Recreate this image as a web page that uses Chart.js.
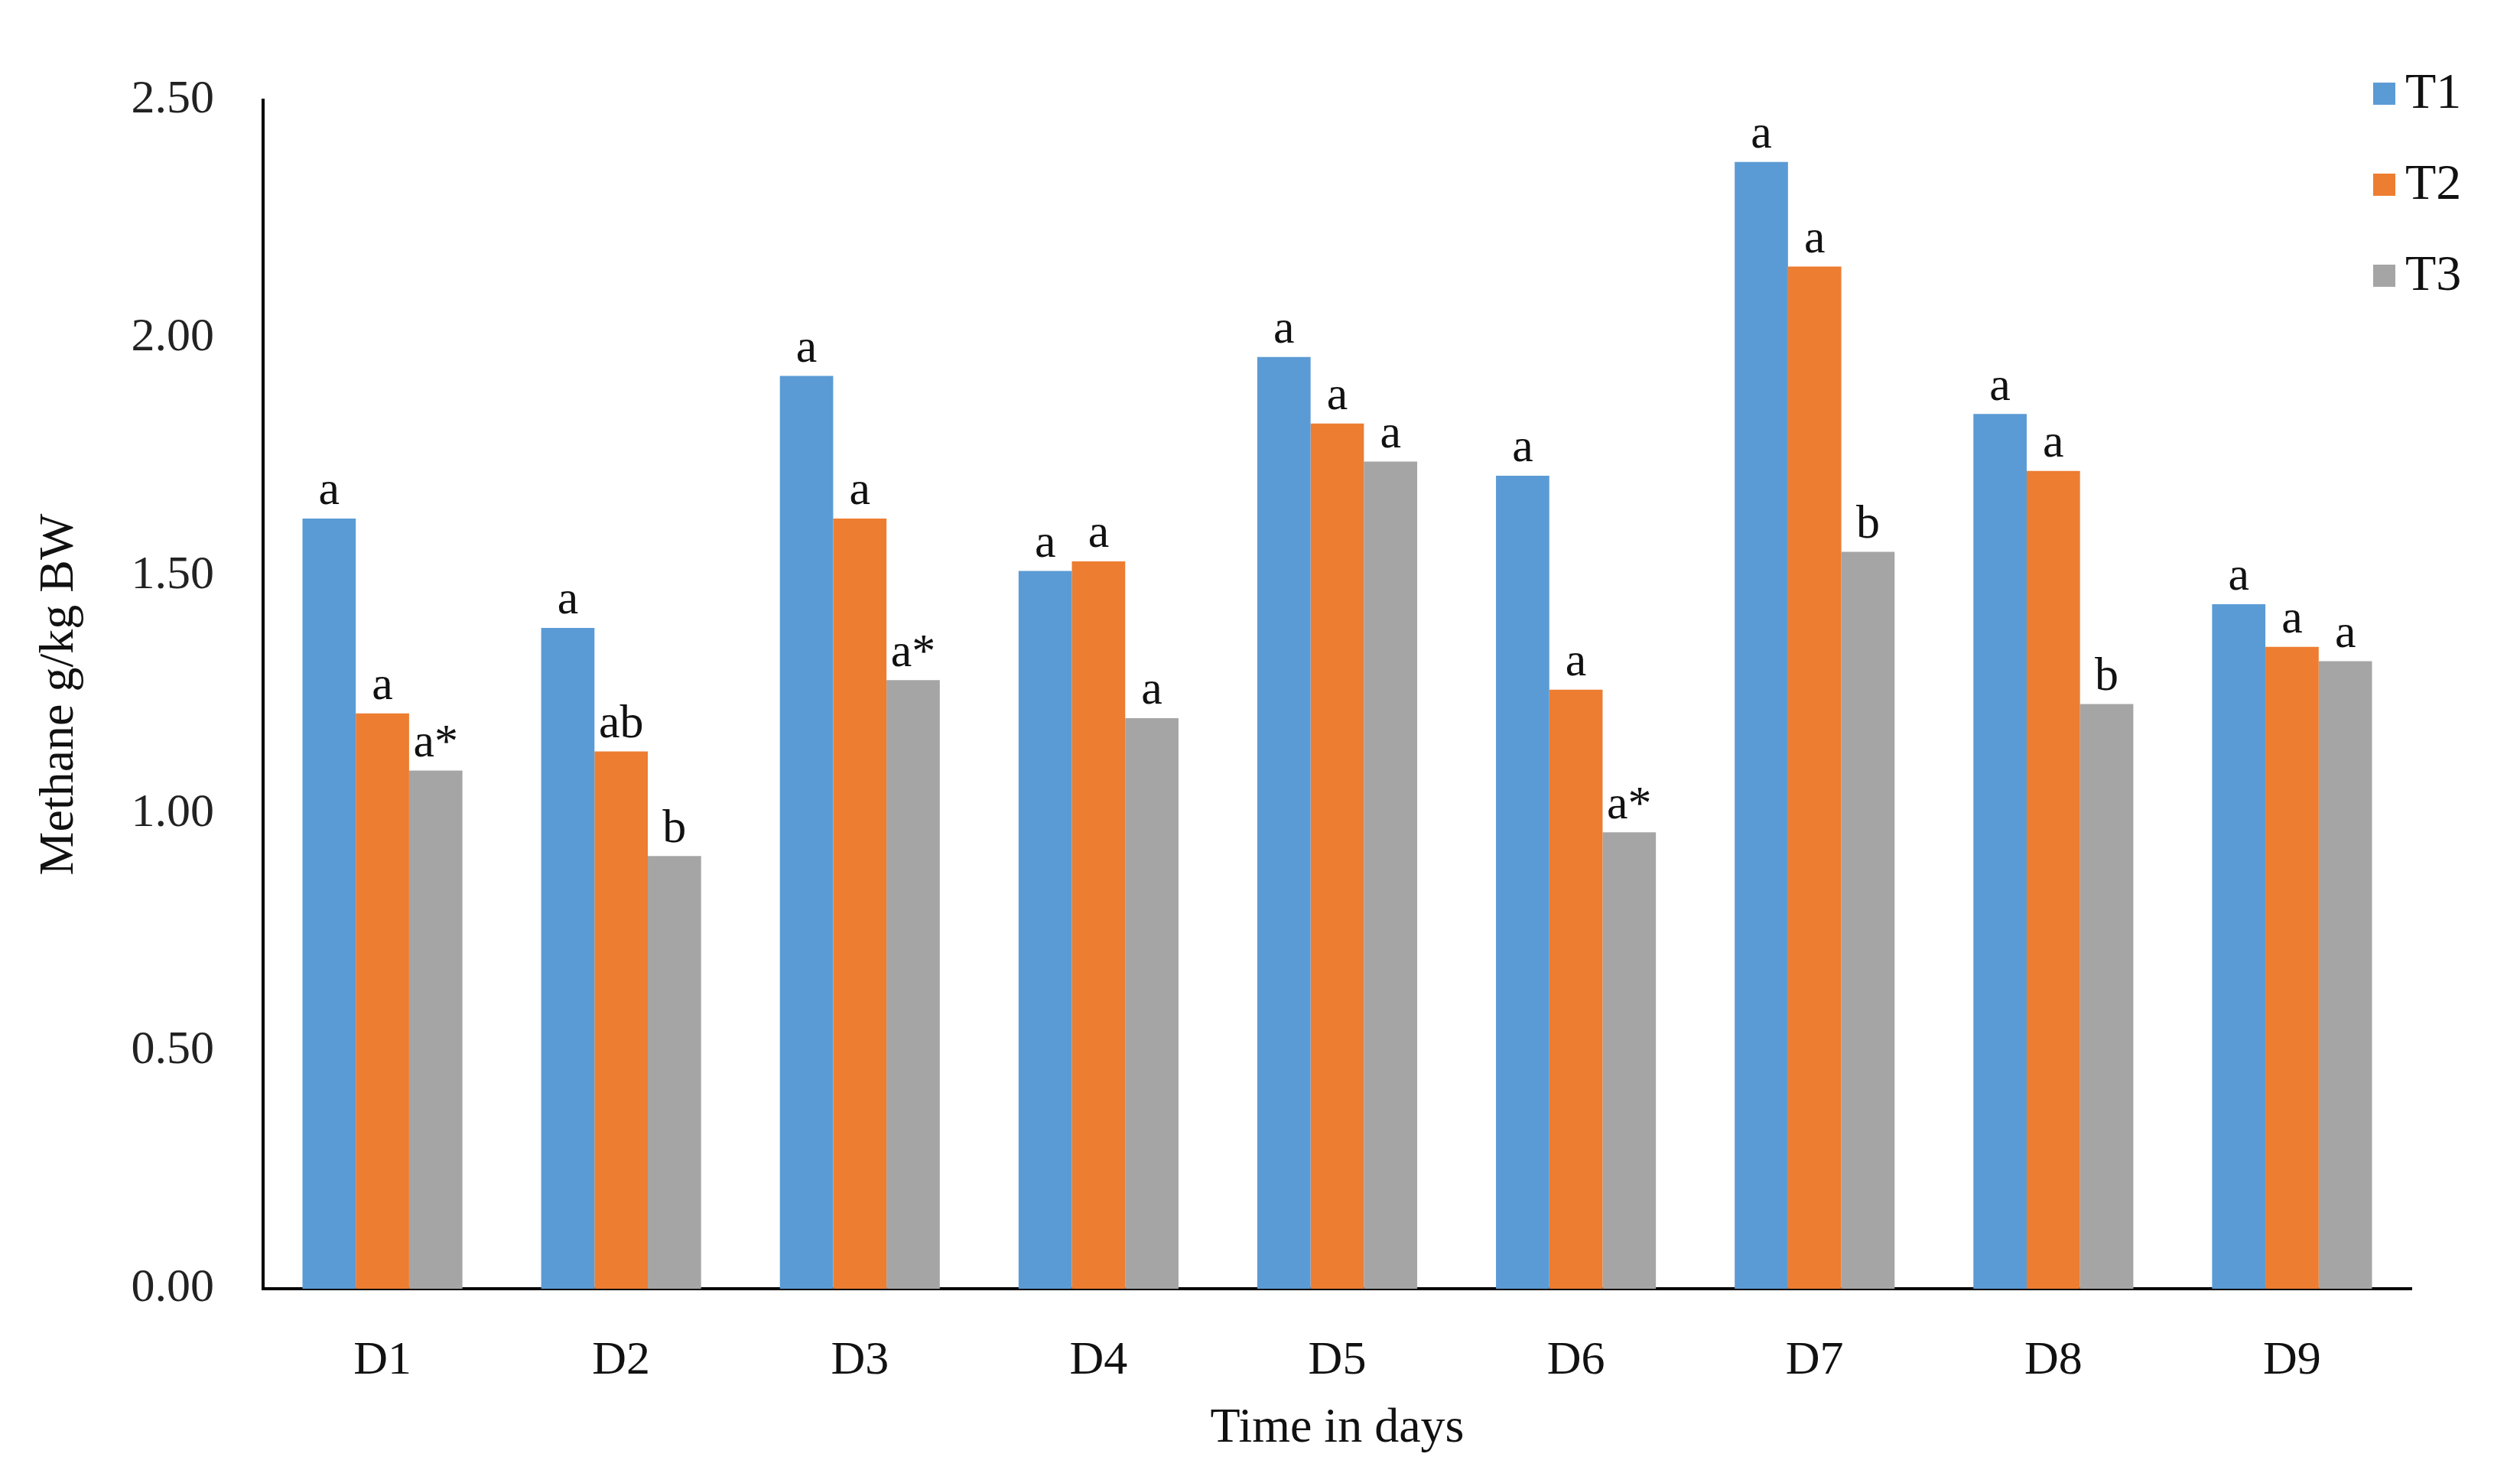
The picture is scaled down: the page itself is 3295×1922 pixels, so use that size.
<!DOCTYPE html>
<html>
<head>
<meta charset="utf-8">
<script src="https://cdn.jsdelivr.net/npm/chart.js@4.4.1/dist/chart.umd.min.js"></script>
<style>
  html, body { margin: 0; padding: 0; background: #fff; }
  canvas { display: block; }
</style>
</head>
<body>
<canvas id="methaneChart" width="3295" height="1922" style="width:3295px;height:1922px"></canvas>
<script>
// data
const days = ['D1', 'D2', 'D3', 'D4', 'D5', 'D6', 'D7', 'D8', 'D9'];
const t1Values = [1.62, 1.39, 1.92, 1.51, 1.96, 1.71, 2.37, 1.84, 1.44];
const t2Values = [1.21, 1.13, 1.62, 1.53, 1.82, 1.26, 2.15, 1.72, 1.35];
const t3Values = [1.09, 0.91, 1.28, 1.20, 1.74, 0.96, 1.55, 1.23, 1.32];
const t1Letters = ['a', 'a', 'a', 'a', 'a', 'a', 'a', 'a', 'a'];
const t2Letters = ['a', 'ab', 'a', 'a', 'a', 'a', 'a', 'a', 'a'];
const t3Letters = ['a*', 'b', 'a*', 'a', 'a', 'a*', 'b', 'b', 'a'];
const yTicks = [0, 0.5, 1.0, 1.5, 2.0, 2.5];

const FONT = "'Liberation Serif', 'DejaVu Serif', serif";

const barLetters = {
  id: 'barLetters',
  afterDatasetsDraw(chart) {
    const ctx = chart.ctx;
    ctx.save();
    ctx.font = `62px ${FONT}`;
    ctx.fillStyle = '#111';
    ctx.textAlign = 'center';
    ctx.textBaseline = 'bottom';
    chart.data.datasets.forEach((ds, i) => {
      chart.getDatasetMeta(i).data.forEach((bar, j) => {
        ctx.fillText(ds.letters[j], bar.x, bar.y - 4);
      });
    });
    ctx.restore();
  },
};

const sideLegend = {
  id: 'sideLegend',
  afterDraw(chart) {
    const ctx = chart.ctx;
    ctx.save();
    ctx.font = `66px ${FONT}`;
    ctx.textBaseline = 'middle';
    ctx.textAlign = 'left';
    chart.data.datasets.forEach((ds, i) => {
      const y = 122 + i * 119;
      ctx.fillStyle = ds.backgroundColor;
      ctx.fillRect(3103, y - 14, 29, 29);
      ctx.fillStyle = '#111';
      ctx.fillText(ds.label, 3145, y + 2);
    });
    ctx.restore();
  },
};

new Chart(document.getElementById('methaneChart'), {
  type: 'bar',
  data: {
    labels: days,
    datasets: [
      { label: 'T1', data: t1Values, letters: t1Letters, backgroundColor: '#5B9BD5' },
      { label: 'T2', data: t2Values, letters: t2Letters, backgroundColor: '#ED7D31' },
      { label: 'T3', data: t3Values, letters: t3Letters, backgroundColor: '#A5A5A5' },
    ],
  },
  options: {
    responsive: false,
    animation: false,
    devicePixelRatio: 1,
    categoryPercentage: 0.67,
    barPercentage: 1.0,
    layout: { padding: { left: 0, right: 142, top: 131, bottom: 0 } },
    plugins: {
      legend: { display: false },
      tooltip: { enabled: false },
    },
    scales: {
      x: {
        grid: { display: false, drawTicks: false },
        border: { display: true, color: '#000', width: 4 },
        ticks: { color: '#111', font: { family: FONT, size: 62 }, padding: 58 },
        title: {
          display: true,
          text: 'Time in days',
          color: '#111',
          font: { family: FONT, size: 64 },
          padding: { top: 15, bottom: 15 },
        },
        afterFit(scale) { scale.height = 237; },
      },
      y: {
        min: 0,
        max: 2.5,
        grid: { display: false, drawTicks: false },
        border: { display: true, color: '#000', width: 4 },
        ticks: {
          color: '#222',
          font: { family: FONT, size: 62 },
          padding: 64,
          callback: (v) => Number(v).toFixed(2),
        },
        afterBuildTicks(scale) { scale.ticks = yTicks.map((v) => ({ value: v })); },
        title: {
          display: true,
          text: 'Methane g/kg BW',
          color: '#111',
          font: { family: FONT, size: 64 },
          padding: { top: 40, bottom: 40 },
        },
        afterFit(scale) { scale.width = 344; },
      },
    },
  },
  plugins: [barLetters, sideLegend],
});
</script>
</body>
</html>
